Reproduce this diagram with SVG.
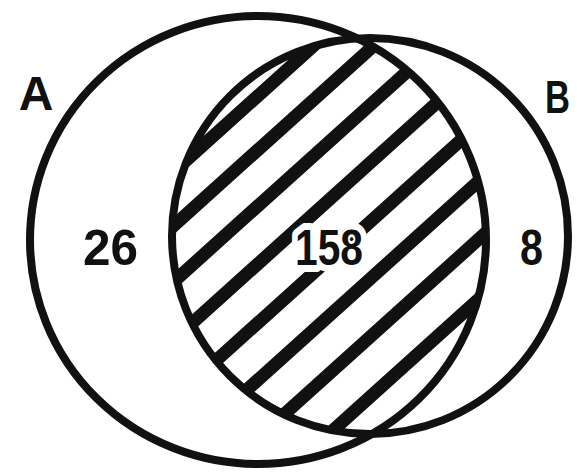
<svg xmlns="http://www.w3.org/2000/svg" width="577" height="474" viewBox="0 0 577 474">
<style>
.outline{fill:none;stroke:#111;stroke-width:8}
.hatch{stroke:#111;stroke-width:13;stroke-linecap:round;fill:none}
.lbl{font-family:"Liberation Sans",Arial,sans-serif;font-weight:bold;fill:#111}
.halo{stroke:#fff;stroke-width:14;stroke-linejoin:round;paint-order:stroke}
</style>
<defs>
<clipPath id="clipA"><ellipse cx="258" cy="240" rx="228" ry="224"/></clipPath>
<clipPath id="clipB"><circle cx="370" cy="236" r="198"/></clipPath>
</defs>
<rect width="577" height="474" fill="#fff"/>
<g id="intersection">
<g clip-path="url(#clipA)"><g clip-path="url(#clipB)">
<g class="hatch">
<line x1="100" y1="238" x2="560" y2="-176"/>
<line x1="100" y1="292" x2="560" y2="-122"/>
<line x1="100" y1="348" x2="560" y2="-66"/>
<line x1="100" y1="406" x2="560" y2="-8"/>
<line x1="100" y1="465" x2="560" y2="51"/>
<line x1="100" y1="522" x2="560" y2="108"/>
<line x1="100" y1="580" x2="560" y2="166"/>
<line x1="100" y1="640" x2="560" y2="226"/>
</g>
</g></g>
</g>
<g id="setA">
<ellipse class="outline" cx="258" cy="240" rx="228" ry="224"/>
<text class="lbl" x="36" y="110" font-size="48" text-anchor="middle">A</text>
</g>
<g id="setB">
<circle class="outline" cx="370" cy="236" r="198"/>
<text class="lbl" x="545" y="113" font-size="46" textLength="25" lengthAdjust="spacingAndGlyphs">B</text>
</g>
<g id="labels">
<text class="lbl" x="83" y="265" font-size="50" textLength="55" lengthAdjust="spacingAndGlyphs">26</text>
<text class="lbl halo" x="295" y="265" font-size="50" textLength="68" lengthAdjust="spacingAndGlyphs">158</text>
<text class="lbl" x="520" y="265" font-size="50" textLength="23" lengthAdjust="spacingAndGlyphs">8</text>
</g>
</svg>
